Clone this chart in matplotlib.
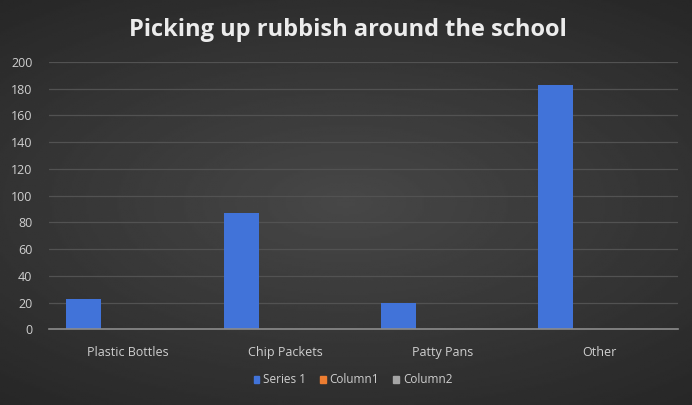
import numpy as np
import matplotlib.pyplot as plt
from matplotlib.patches import Patch

# chart data
categories = ['Plastic Bottles', 'Chip Packets', 'Patty Pans', 'Other']
series_names = ['Series 1', 'Column1', 'Column2']
series_1 = [23, 87, 20, 183]
column_1 = [0, 0, 0, 0]
column_2 = [0, 0, 0, 0]
y_ticks = [0, 20, 40, 60, 80, 100, 120, 140, 160, 180, 200]

colors = ['#4173d9', '#ed7d31', '#a5a5a5']
text_col = '#cfcfcf'

fig = plt.figure(figsize=(6.92, 4.05), dpi=100)
fig.patch.set_facecolor('#303030')

# dark radial background like the slide
bg = fig.add_axes([0, 0, 1, 1], zorder=-10)
yy, xx = np.mgrid[-1:1:200j, -1:1:340j]
r = np.sqrt((xx * 0.9) ** 2 + (yy * 1.1) ** 2)
bg.imshow(0.28 - 0.09 * r, cmap='gray', vmin=0, vmax=1, aspect='auto',
          extent=[0, 1, 0, 1])
bg.axis('off')

ax = fig.add_axes([0.0708, 0.187, 0.909, 0.66])
ax.set_facecolor('none')

x = np.arange(len(categories))
w = 0.223
for j, (vals, name) in enumerate(zip([series_1, column_1, column_2], series_names)):
    ax.bar(x + (j - 1.25) * w, vals, width=w, color=colors[j], label=name, zorder=3)

ax.set_xlim(-0.5, 3.5)
ax.set_ylim(0, 200)
ax.set_yticks(y_ticks)
ax.set_xticks(x)
ax.set_xticklabels(categories)
ax.grid(axis='y', color='#525252', linewidth=0.9, zorder=0)
ax.tick_params(length=0, colors=text_col, labelsize=9)
ax.tick_params(axis='x', pad=12)
ax.tick_params(axis='y', pad=12)
for lbl in ax.get_xticklabels() + ax.get_yticklabels():
    lbl.set_fontfamily('Open Sans')
for s in ['top', 'right', 'left']:
    ax.spines[s].set_visible(False)
ax.spines['bottom'].set_color('#8c8c8c')
ax.spines['bottom'].set_linewidth(1.2)
ax.spines['bottom'].set_zorder(4)

fig.text(0.503, 0.925, 'Picking up rubbish around the school', ha='center', va='center',
         color='#ececec', fontsize=17, fontweight='bold', family='Open Sans')

handles = [Patch(color=c, label=n) for c, n in zip(colors, series_names)]
fig.legend(handles=handles, loc='center', bbox_to_anchor=(0.51, 0.062), ncol=3,
           frameon=False, fontsize=8.5, labelcolor=text_col, handlelength=0.5,
           handleheight=0.5, handletextpad=0.3, columnspacing=1.2,
           prop={'family': 'Open Sans', 'size': 8.5})

fig.savefig('out.png', dpi=100, facecolor=fig.get_facecolor())
